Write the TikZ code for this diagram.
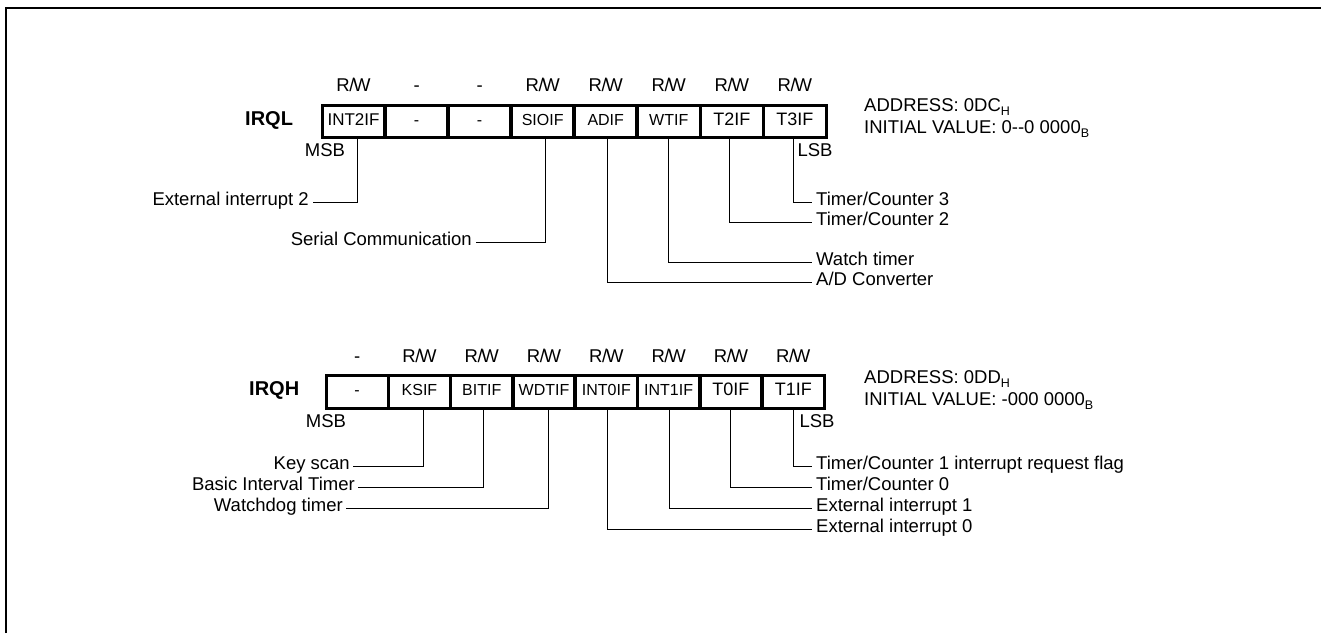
\documentclass[tikz,border=0pt]{standalone}
\usepackage{fontspec}
\setmainfont{Liberation Sans}
\newcommand{\rwlbl}{R\kern-0.02em/\kern-0.07em W}
\newcommand{\subsc}[1]{\raisebox{-0.35ex}{\fontsize{12.5}{14}\selectfont #1}}
\begin{document}
\begin{tikzpicture}[x=1pt,y=-1pt,
  txt/.style={font=\fontsize{18.5}{21}\selectfont, inner sep=0pt, text height=0.72em, text depth=0pt},
  regname/.style={font=\bfseries\fontsize{20}{23}\selectfont, inner sep=0pt, text height=0.72em, text depth=0pt},
  cell/.style={draw, line width=1.8pt, minimum height=31pt, inner sep=0pt, anchor=west,
    font=\fontsize{16}{18}\selectfont, text height=0.72em, text depth=0pt},
  bigcell/.style={cell, font=\fontsize{18}{20}\selectfont},
  outer/.style={line width=2.7pt},
  lead/.style={line width=1pt},
  frameline/.style={line width=1.2pt}]
\useasboundingbox (0,0) rectangle (1321,633);
\draw[frameline] (6,633) -- (6,8) -- (1321,8);

% ---------------- IRQL ----------------
\node[regname, anchor=west] (irql) at (245,121.5) {IRQL};
\node[cell, minimum width=61.25pt, font=\fontsize{17}{19}\selectfont] (l7) at (322,121.5) {INT2IF};
\node[cell, minimum width=61.25pt] (l6) at (l7.east) {-};
\node[cell, minimum width=61.25pt] (l5) at (l6.east) {-};
\node[cell, minimum width=61.25pt] (l4) at (l5.east) {SIOIF};
\node[cell, minimum width=61.25pt] (l3) at (l4.east) {ADIF};
\node[cell, minimum width=61.25pt] (l2) at (l3.east) {WTIF};
\node[bigcell, minimum width=61.25pt] (l1) at (l2.east) {T2IF};
\node[bigcell, minimum width=61.25pt] (l0) at (l1.east) {T3IF};
\draw[outer] (l7.north west) rectangle (l0.south east);
\node[txt] (rwl7) at ([yshift=17pt]l7.north) {\rwlbl};
\node[txt] (rwl6) at ([yshift=17pt]l6.north) {-};
\node[txt] (rwl5) at ([yshift=17pt]l5.north) {-};
\node[txt] (rwl4) at ([yshift=17pt]l4.north) {\rwlbl};
\node[txt] (rwl3) at ([yshift=17pt]l3.north) {\rwlbl};
\node[txt] (rwl2) at ([yshift=17pt]l2.north) {\rwlbl};
\node[txt] (rwl1) at ([yshift=17pt]l1.north) {\rwlbl};
\node[txt] (rwl0) at ([yshift=17pt]l0.north) {\rwlbl};
\node[txt] (msbl) at (325,153) {MSB};
\node[txt] (lsbl) at (815,153) {LSB};

\node[txt, anchor=east] (ext2) at (309,202) {External interrupt 2};
\node[txt, anchor=east] (sio) at (472,242) {Serial Communication};
\node[txt, anchor=west] (tc3) at (816,202) {Timer/Counter 3};
\node[txt, anchor=west] (tc2) at (816,222) {Timer/Counter 2};
\node[txt, anchor=west] (wt) at (816,262) {Watch timer};
\node[txt, anchor=west] (adc) at (816,282) {A/D Converter};

\draw[lead] ([xshift=3.5pt]l7.south) |- ([xshift=4pt]ext2.east);
\draw[lead] ([xshift=2.5pt]l4.south) |- ([xshift=4pt]sio.east);
\draw[lead] ([xshift=1.5pt]l3.south) |- ([xshift=-4pt]adc.west);
\draw[lead] (l2.south) |- ([xshift=-4pt]wt.west);
\draw[lead] ([xshift=-2pt]l1.south) |- ([xshift=-4pt]tc2.west);
\draw[lead] ([xshift=-1.5pt]l0.south) |- ([xshift=-4pt]tc3.west);

\node[txt, anchor=west] (addrl) at (864,108) {ADDRESS: 0DC\subsc{H}};
\node[txt, anchor=west] (initl) at (864,130) {INITIAL VALUE: 0-{}-0 0000\subsc{B}};

% ---------------- IRQH ----------------
\node[regname, anchor=west] (irqh) at (249,392) {IRQH};
\node[cell, minimum width=60.5pt] (h7) at (326,392) {-};
\node[cell, minimum width=60.5pt] (h6) at (h7.east) {KSIF};
\node[cell, minimum width=60.5pt] (h5) at (h6.east) {BITIF};
\node[cell, minimum width=60.5pt] (h4) at (h5.east) {WDTIF};
\node[cell, minimum width=60.5pt] (h3) at (h4.east) {INT0IF};
\node[cell, minimum width=60.5pt] (h2) at (h3.east) {INT1IF};
\node[bigcell, minimum width=60.5pt] (h1) at (h2.east) {T0IF};
\node[bigcell, minimum width=60.5pt] (h0) at (h1.east) {T1IF};
\draw[outer] (h7.north west) rectangle (h0.south east);
\node[txt] (rwh7) at ([yshift=17pt]h7.north) {-};
\node[txt] (rwh6) at ([yshift=17pt]h6.north) {\rwlbl};
\node[txt] (rwh5) at ([yshift=17pt]h5.north) {\rwlbl};
\node[txt] (rwh4) at ([yshift=17pt]h4.north) {\rwlbl};
\node[txt] (rwh3) at ([yshift=17pt]h3.north) {\rwlbl};
\node[txt] (rwh2) at ([yshift=17pt]h2.north) {\rwlbl};
\node[txt] (rwh1) at ([yshift=17pt]h1.north) {\rwlbl};
\node[txt] (rwh0) at ([yshift=17pt]h0.north) {\rwlbl};
\node[txt] (msbh) at (326,424) {MSB};
\node[txt] (lsbh) at (817,424) {LSB};

\node[txt, anchor=east] (key) at (350,466) {Key scan};
\node[txt, anchor=east] (bit) at (355,487) {Basic Interval Timer};
\node[txt, anchor=east] (wdt) at (343,508) {Watchdog timer};
\node[txt, anchor=west] (tc1) at (816,466) {Timer/Counter 1 interrupt request flag};
\node[txt, anchor=west] (tc0) at (816,487) {Timer/Counter 0};
\node[txt, anchor=west] (ex1) at (816,508) {External interrupt 1};
\node[txt, anchor=west] (ex0) at (816,529) {External interrupt 0};

\draw[lead] ([xshift=4pt]h6.south) |- ([xshift=3pt]key.east);
\draw[lead] ([xshift=1.5pt]h5.south) |- ([xshift=3pt]bit.east);
\draw[lead] ([xshift=4pt]h4.south) |- ([xshift=3pt]wdt.east);
\draw[lead] ([xshift=1pt]h3.south) |- ([xshift=-4pt]ex0.west);
\draw[lead] ([xshift=1pt]h2.south) |- ([xshift=-4pt]ex1.west);
\draw[lead] (h1.south) |- ([xshift=-4pt]tc0.west);
\draw[lead] (h0.south) |- ([xshift=-4pt]tc1.west);

\node[txt, anchor=west] (addrh) at (864,380) {ADDRESS: 0DD\subsc{H}};
\node[txt, anchor=west] (inith) at (864,402) {INITIAL VALUE: -000 0000\subsc{B}};
\end{tikzpicture}
\end{document}
